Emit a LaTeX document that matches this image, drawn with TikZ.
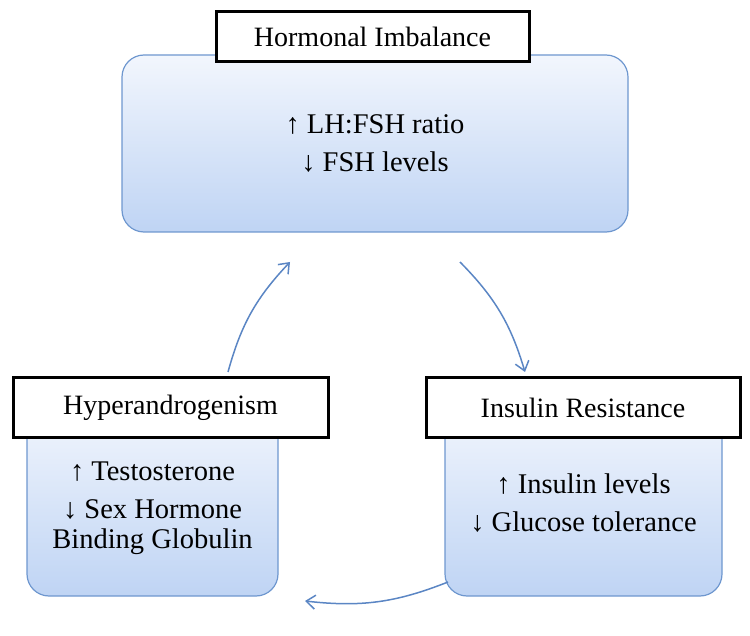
\documentclass[tikz,border=0pt]{standalone}
\usepackage{fontspec}
\setmainfont{Liberation Serif}
\usetikzlibrary{arrows.meta}
\definecolor{bord}{HTML}{6E97CF}
\definecolor{topc}{HTML}{F2F6FD}
\definecolor{botc}{HTML}{BFD4F4}
\definecolor{arr}{HTML}{5B86C4}
\tikzset{
 panel/.style={draw=bord,line width=1.2pt,rounded corners=22pt,top color=topc,bottom color=botc,inner sep=0pt},
 ttl/.style={draw=black,line width=3pt,fill=white,inner sep=0pt,font=\fontsize{28}{32}\selectfont},
 body/.style={font=\fontsize{28.5}{38}\selectfont,align=center},
 flow/.style={draw=arr,line width=1.5pt,-{Straight Barb[length=9pt,width=14pt]}}
}
\begin{document}
\begin{tikzpicture}[x=1pt,y=-1pt]
\useasboundingbox (0,0) rectangle (750,636);
\node[panel,minimum width=506pt,minimum height=177pt] (top) at (375,143.5) {};
\node[ttl,minimum width=313pt,minimum height=50pt] (tt) at (372.5,37) {Hormonal Imbalance};
\node[body] (tb) at (375,143) {↑ LH:FSH ratio\\↓ FSH levels};

\node[panel,minimum width=251pt,minimum height=191pt] (left) at (152.5,500.5) {};
\node[ttl,minimum width=315pt,minimum height=59pt] (lt) at (170.5,407.5) {Hyperandrogenism};
\node[body] (lb) at (152.5,508) {↑ Testosterone\\↓ Sex Hormone\\[-8pt]Binding Globulin};

\node[panel,minimum width=277pt,minimum height=191pt] (right) at (583.5,500.5) {};
\node[ttl,minimum width=314pt,minimum height=59pt] (rt) at (583,407.5) {Insulin Resistance};
\node[body] (rb) at (583.5,503) {↑ Insulin levels\\↓ Glucose tolerance};

\coordinate (a1) at (228,372); \coordinate (a2) at (290,262);
\coordinate (b1) at (460,262); \coordinate (b2) at (525,372);
\coordinate (c1) at (448,582); \coordinate (c2) at (305,601);
\draw[flow] (a1) to[bend left=14] (a2);
\draw[flow] (b1) to[bend left=14] (b2);
\draw[flow] (c1) to[bend left=14] (c2);
\end{tikzpicture}
\end{document}
